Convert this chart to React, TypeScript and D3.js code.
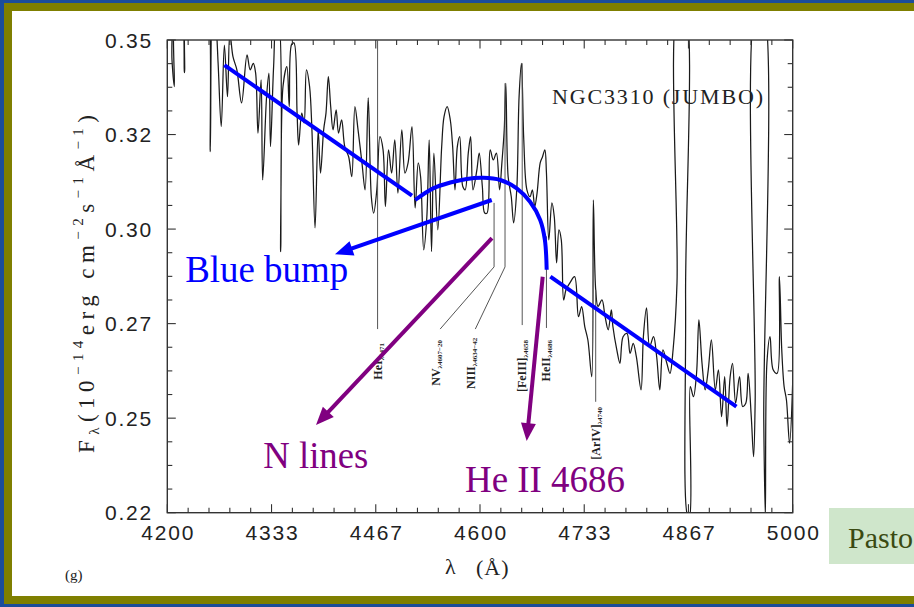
import React from "react";
import * as d3 from "d3";

// ---------- data ----------
const xTicks = [4200, 4333.333, 4466.667, 4600, 4733.333, 4866.667, 5000];
const xTickLabels = ["4200", "4333", "4467", "4600", "4733", "4867", "5000"];
const yTicks = [0.35, 0.324, 0.298, 0.272, 0.246, 0.22];
const yTickLabels = ["0.35", "0.32", "0.30", "0.27", "0.25", "0.22"];

// spectrum (wavelength in Å, flux in 1e-14 erg/cm2/s/Å); values >0.35 / <0.22 are off-scale
const lambda = [
  4200, 4204, 4206, 4209, 4211, 4217, 4222, 4225, 4230, 4250, 4252, 4255, 4258, 4262, 4265, 4269,
  4273, 4277, 4280, 4284, 4289, 4295, 4302, 4306, 4310, 4313, 4316, 4320, 4322, 4327, 4330, 4332,
  4336, 4340, 4342, 4345, 4348, 4353, 4356, 4359, 4362, 4366, 4368, 4372, 4375, 4378, 4382, 4385,
  4389, 4393, 4396, 4400, 4403, 4406, 4409, 4412, 4416, 4419, 4423, 4427, 4432, 4436, 4440, 4444,
  4449, 4453, 4457, 4461, 4464, 4468, 4472, 4476, 4479, 4483, 4487, 4491, 4495, 4500, 4504, 4508,
  4513, 4517, 4521, 4524, 4528, 4532, 4535, 4538, 4541, 4546, 4551, 4554, 4558, 4562, 4565, 4568,
  4571, 4574, 4578, 4581, 4585, 4588, 4591, 4596, 4599, 4603, 4606, 4609, 4613, 4617, 4621, 4625,
  4628, 4631, 4633, 4636, 4640, 4643, 4647, 4650, 4653, 4656, 4660, 4664, 4667, 4670, 4673, 4677,
  4680, 4683, 4685, 4688, 4692, 4695, 4698, 4701, 4704, 4707, 4710, 4715, 4721, 4726, 4730, 4734,
  4738, 4743, 4745, 4748, 4751, 4756, 4760, 4764, 4768, 4770, 4775, 4779, 4783, 4788, 4792, 4796,
  4800, 4806, 4809, 4813, 4817, 4822, 4826, 4830, 4834, 4839, 4843, 4847, 4852, 4854, 4861, 4863,
  4866, 4868, 4869, 4873, 4877, 4880, 4884, 4888, 4892, 4896, 4901, 4905, 4909, 4913, 4916, 4920,
  4923, 4927, 4932, 4936, 4940, 4943, 4947, 4950, 4952, 4954, 4961, 4963, 4965, 4967, 4971, 4975,
  4980, 4983, 4986, 4989, 4992, 4996, 5000,
];
const flux = [
  0.36, 0.36, 0.3445, 0.3372, 0.36, 0.36, 0.341, 0.36, 0.36, 0.36, 0.36, 0.3193, 0.36, 0.355, 0.3436, 0.3262,
  0.3486, 0.3344, 0.352, 0.3454, 0.3418, 0.3327, 0.3459, 0.3418, 0.3436, 0.3409, 0.3244, 0.339, 0.3115, 0.3344, 0.3409, 0.3207,
  0.3427, 0.356, 0.356, 0.2918, 0.3372, 0.3427, 0.3317, 0.3488, 0.3492, 0.3299, 0.3211, 0.3299, 0.3272, 0.3418, 0.3372, 0.3253,
  0.2983, 0.3253, 0.3134, 0.3253, 0.3299, 0.3399, 0.3317, 0.3253, 0.3308, 0.3244, 0.328, 0.3207, 0.3179, 0.3124, 0.3317, 0.3253,
  0.3162, 0.3088, 0.3341, 0.3069, 0.3024, 0.3088, 0.3234, 0.3198, 0.3042, 0.3198, 0.3134, 0.3225, 0.3079, 0.3253, 0.3134, 0.3162,
  0.3262, 0.3038, 0.3162, 0.3124, 0.2923, 0.3014, 0.3225, 0.2918, 0.3189, 0.2978, 0.3207, 0.3289, 0.3317, 0.328, 0.3207, 0.3088,
  0.3207, 0.3234, 0.3097, 0.3088, 0.3189, 0.3234, 0.3088, 0.3143, 0.3189, 0.3097, 0.3024, 0.3024, 0.3198, 0.317, 0.3189, 0.3088,
  0.3162, 0.3253, 0.3381, 0.3124, 0.3069, 0.2997, 0.3088, 0.3344, 0.3436, 0.3225, 0.3088, 0.3069, 0.3088, 0.3042, 0.3079, 0.3162,
  0.3179, 0.3198, 0.3134, 0.295, 0.3052, 0.3014, 0.2887, 0.2978, 0.295, 0.2785, 0.2813, 0.2832, 0.2849, 0.2739, 0.2767, 0.2712,
  0.2675, 0.2574, 0.306, 0.2813, 0.2767, 0.2785, 0.2739, 0.2703, 0.2758, 0.2712, 0.2648, 0.2611, 0.2684, 0.2693, 0.2638, 0.2666,
  0.2629, 0.2538, 0.2684, 0.2763, 0.2657, 0.2684, 0.2629, 0.2538, 0.2648, 0.2611, 0.2583, 0.2648, 0.2832, 0.36, 0.36, 0.2785,
  0.219, 0.219, 0.2547, 0.2519, 0.2583, 0.273, 0.2611, 0.2538, 0.2593, 0.2675, 0.2538, 0.2593, 0.2464, 0.2574, 0.2437, 0.2574,
  0.2611, 0.2501, 0.2574, 0.2492, 0.2501, 0.2583, 0.2464, 0.2354, 0.251, 0.36, 0.36, 0.2455, 0.219, 0.2611, 0.2684, 0.2593,
  0.2583, 0.2849, 0.2648, 0.2547, 0.251, 0.2391, 0.256,
];

// line identification markers: [lambda, flux] polylines
const markerNames = ["HeI", "NV", "NIII", "[FeIII]", "HeII", "[ArIV]"];
const markerSubs = ["λ4471", "λ4607−20", "λ4634−42", "λ4658", "λ4686", "λ4740"];
const markerPaths: [number, number][][] = [
  [[4469, 0.35], [4469, 0.2705]],
  [[4618, 0.3052], [4618, 0.2876], [4549, 0.2705]],
  [[4632, 0.3381], [4632, 0.2876], [4594, 0.2705]],
  [[4654, 0.3436], [4654, 0.2716]],
  [[4685, 0.296], [4685, 0.2708]],
  [[4748, 0.2813], [4748, 0.2505]],
];
const markerLabelLambda = [4469, 4544, 4589, 4654, 4685, 4748];
const markerLabelTop = [0.2667, 0.2675, 0.2681, 0.2675, 0.2675, 0.2491];

// annotations (data units)
const blueLine1: [number, number][] = [[4273, 0.3431], [4513, 0.3072]];
const bumpLambda = [4517, 4540, 4562, 4583, 4604, 4626, 4647, 4664, 4677, 4683, 4685.3];
const bumpFlux = [0.306, 0.3092, 0.3108, 0.3118, 0.3121, 0.3115, 0.3092, 0.3055, 0.3005, 0.295, 0.2868];
const blueLine3: [number, number][] = [[4690, 0.2849], [4928, 0.2492]];
const blueArrow: [number, number][] = [[4615, 0.306], [4414.5, 0.2911]];
const nArrow: [number, number][] = [[4615.3, 0.2955], [4390.2, 0.2441]];
const heArrow: [number, number][] = [[4680.2, 0.2849], [4659.7, 0.2397]];

const annoText = ["Blue bump", "N lines", "He II 4686"];
const annoPos: [number, number][] = [[4222.9, 0.2835], [4322.8, 0.2322], [4580.8, 0.2258]];

// ---------- layout ----------
const W = 914;
const H = 607;
const L = 167.3, R = 792.7, T = 40, B = 512.7;
const BLUE = "#0000ff";
const PURPLE = "#800080";

function Arrow({ pts, color, x, y }: any) {
  const sx = x(pts[0][0]), sy = y(pts[0][1]);
  const tx = x(pts[1][0]), ty = y(pts[1][1]);
  const dx = tx - sx, dy = ty - sy;
  const len = Math.hypot(dx, dy);
  const ux = dx / len, uy = dy / len;
  const hl = 18, hw = 7.5;
  const bx = tx - ux * hl, by = ty - uy * hl;
  const ex = tx - ux * (hl - 3), ey = ty - uy * (hl - 3);
  const head = `M${tx},${ty} L${bx - uy * hw},${by + ux * hw} L${bx + uy * hw},${by - ux * hw} Z`;
  return (
    <g>
      <line x1={sx} y1={sy} x2={ex} y2={ey} stroke={color} strokeWidth={4} />
      <path d={head} fill={color} />
    </g>
  );
}

export default function App() {
  const x = d3.scaleLinear().domain([4200, 5000]).range([L, R]);
  const y = d3.scaleLinear().domain([0.22, 0.35]).range([B, T]);

  const spec = d3
    .line<number>()
    .x((_, i) => x(lambda[i]))
    .y((_, i) => y(flux[i]))
    .curve(d3.curveCatmullRom.alpha(0.5))(flux) as string;

  const bump = d3
    .line<number>()
    .x((_, i) => x(bumpLambda[i]))
    .y((_, i) => y(bumpFlux[i]))
    .curve(d3.curveCatmullRom.alpha(0.5))(bumpFlux) as string;

  const pl = d3
    .line<[number, number]>()
    .x((d) => x(d[0]))
    .y((d) => y(d[1]));

  const xMinor = d3.range(0, 31).map((i) => 4200 + (i * 800) / 30);
  const yMinor = d3.range(0, 21).map((i) => 0.22 + (i * 0.13) / 20);

  const tickColor = "#333";

  return (
    <svg
      width={W}
      height={H}
      style={{ position: "fixed", left: 0, top: 0, display: "block" }}
      xmlns="http://www.w3.org/2000/svg"
    >
      <defs>
        <clipPath id="plotClip">
          <rect x={L} y={T} width={R - L} height={B - T} />
        </clipPath>
      </defs>
      {/* slide background */}
      <rect x={0} y={0} width={W} height={H} fill="#1b4d9b" />
      <rect x={4} y={3} width={W} height={601} fill="#7f7f00" />
      <rect x={12} y={11} width={W} height={585} fill="#ffffff" />

      {/* spectrum */}
      <path d={spec} fill="none" stroke="#1a1a1a" strokeWidth={1.25} clipPath="url(#plotClip)" />

      {/* frame */}
      <rect x={L} y={T} width={R - L} height={B - T} fill="none" stroke={tickColor} strokeWidth={1.4} />

      {/* x ticks */}
      {xMinor.map((v, i) => {
        const len = i % 5 === 0 ? 8.5 : 5;
        return (
          <g key={"xt" + i}>
            <line x1={x(v)} x2={x(v)} y1={B} y2={B - len} stroke={tickColor} strokeWidth={1.1} />
            <line x1={x(v)} x2={x(v)} y1={T} y2={T + len} stroke={tickColor} strokeWidth={1.1} />
          </g>
        );
      })}
      {/* y ticks */}
      {yMinor.map((v, i) => {
        const len = i % 4 === 0 ? 8.5 : 5;
        return (
          <g key={"yt" + i}>
            <line x1={L} x2={L + len} y1={y(v)} y2={y(v)} stroke={tickColor} strokeWidth={1.1} />
            <line x1={R} x2={R - len} y1={y(v)} y2={y(v)} stroke={tickColor} strokeWidth={1.1} />
          </g>
        );
      })}

      {/* tick labels */}
      <g fontFamily="'Liberation Sans', Arial, sans-serif" fontSize={21} fill="#222" letterSpacing={1.8}>
        {xTicks.map((v, i) => (
          <text key={"xl" + i} x={x(v) + 1} y={540} textAnchor="middle">
            {xTickLabels[i]}
          </text>
        ))}
        {yTicks.map((v, i) => (
          <text key={"yl" + i} x={153} y={y(v)} dy="0.36em" textAnchor="end">
            {yTickLabels[i]}
          </text>
        ))}
      </g>

      {/* axis titles */}
      <g fontFamily="'Liberation Serif', 'Times New Roman', serif" fill="#222">
        <text x={445} y={574} fontSize={22}>λ</text>
        <text x={476} y={575} fontSize={22} letterSpacing={1}>(Å)</text>
        <text x={65} y={580} fontSize={15}>(g)</text>
        <text
          transform="translate(94,284) rotate(-90)"
          textAnchor="middle"
          fontSize={23}
          textLength={338}
          lengthAdjust="spacing"
        >
          <tspan>F</tspan>
          <tspan fontSize={15} dy={5}>λ</tspan>
          <tspan dy={-5}>(10</tspan>
          <tspan fontSize={15} dy={-11}>−14</tspan>
          <tspan dy={11}>erg cm</tspan>
          <tspan fontSize={15} dy={-11}>−2</tspan>
          <tspan dy={11}>s</tspan>
          <tspan fontSize={15} dy={-11}>−1</tspan>
          <tspan dy={11}>Å</tspan>
          <tspan fontSize={15} dy={-11}>−1</tspan>
          <tspan dy={11}>)</tspan>
        </text>
        <text x={552} y={104} fontSize={22} textLength={211} lengthAdjust="spacing">
          NGC3310 (JUMBO)
        </text>
      </g>

      {/* line markers */}
      {markerPaths.map((p, i) => (
        <path key={"mk" + i} d={pl(p) as string} fill="none" stroke="#555" strokeWidth={1} />
      ))}
      <g fontFamily="'Liberation Serif', 'Times New Roman', serif" fill="#222" fontWeight="bold">
        {markerNames.map((n, i) => (
          <text
            key={"ml" + i}
            transform={`translate(${x(markerLabelLambda[i]) + 4},${y(markerLabelTop[i])}) rotate(-90)`}
            textAnchor="end"
            fontSize={12}
          >
            <tspan>{n}</tspan>
            <tspan fontSize={7} dy={2}>{markerSubs[i]}</tspan>
          </text>
        ))}
      </g>

      {/* annotations */}
      <g strokeLinecap="butt">
        <path d={pl(blueLine1) as string} stroke={BLUE} strokeWidth={4} fill="none" />
        <path d={bump} stroke={BLUE} strokeWidth={4} fill="none" />
        <path d={pl(blueLine3) as string} stroke={BLUE} strokeWidth={4} fill="none" />
        <Arrow pts={blueArrow} color={BLUE} x={x} y={y} />
        <Arrow pts={nArrow} color={PURPLE} x={x} y={y} />
        <Arrow pts={heArrow} color={PURPLE} x={x} y={y} />
      </g>
      <g fontFamily="'Liberation Serif', 'Times New Roman', serif" fontSize={37}>
        <text x={x(annoPos[0][0])} y={y(annoPos[0][1])} fill={BLUE} textLength={163} lengthAdjust="spacingAndGlyphs">
          {annoText[0]}
        </text>
        <text x={x(annoPos[1][0])} y={y(annoPos[1][1])} fill={PURPLE} textLength={105} lengthAdjust="spacingAndGlyphs">
          {annoText[1]}
        </text>
        <text x={x(annoPos[2][0])} y={y(annoPos[2][1])} fill={PURPLE} textLength={160} lengthAdjust="spacingAndGlyphs">
          {annoText[2]}
        </text>
      </g>

      {/* reference box */}
      <rect x={829} y={508} width={90} height={56} fill="#cfe6cb" />
      <text x={848} y={548} fontFamily="'Liberation Serif', 'Times New Roman', serif" fontSize={30} fill="#3a4a12">
        Pasto
      </text>
    </svg>
  );
}
